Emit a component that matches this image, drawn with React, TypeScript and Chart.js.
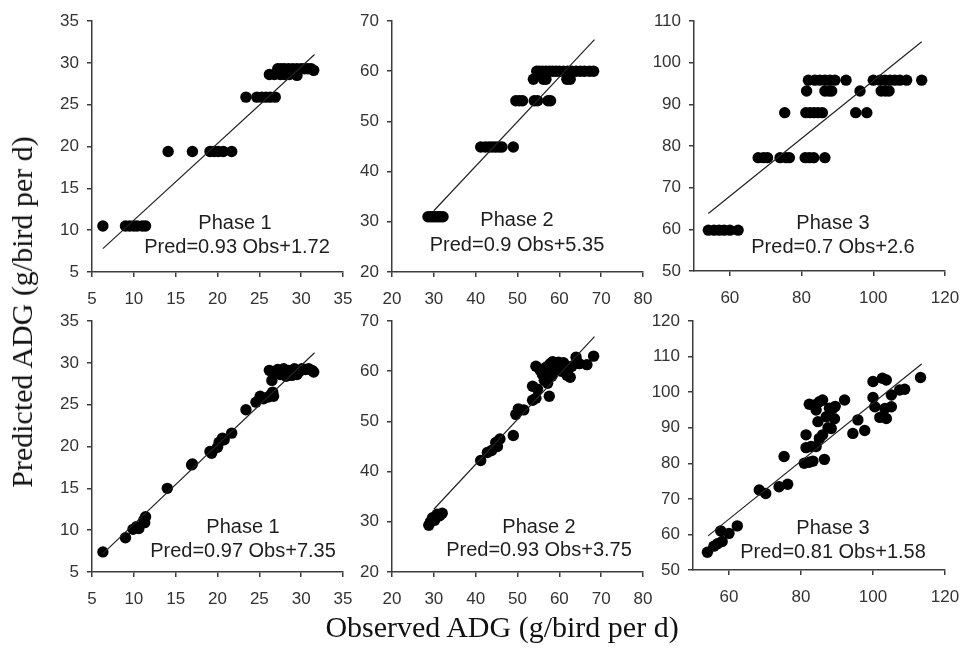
import React, { useEffect, useRef } from "react";
import { Chart, registerables } from "chart.js";

Chart.register(...registerables);

// ---------- DATA ----------
// Row 1, Phase 1
const p1Obs = [6.3, 9.0, 9.5, 10.0, 10.4, 11.0, 11.4, 14.1, 17.0, 19.1, 19.6, 20.1, 20.7, 21.7, 23.4, 24.7, 25.3, 25.8, 26.3, 26.9, 26.2, 26.8, 27.5, 28.0, 28.6, 29.5, 27.2, 27.6, 28.0, 28.5, 29.0, 29.5, 30.0, 30.4, 30.8, 31.2, 31.5];
const p1Pred = [10.5, 10.5, 10.5, 10.5, 10.5, 10.5, 10.5, 19.4, 19.4, 19.4, 19.4, 19.4, 19.4, 19.4, 25.9, 25.9, 25.9, 25.9, 25.9, 25.9, 28.6, 28.6, 28.6, 28.6, 28.6, 28.5, 29.3, 29.3, 29.3, 29.3, 29.3, 29.3, 29.3, 29.3, 29.3, 29.3, 29.1];
const p1FitObs = [6.3, 31.6];
const p1FitPred = [7.8, 31.0];

// Row 1, Phase 2
const p2Obs = [28.6, 29.2, 29.8, 30.4, 31.0, 31.6, 32.2, 41.2, 42.3, 43.2, 44.0, 44.8, 45.6, 46.3, 49.0, 49.6, 50.4, 51.2, 54.0, 54.8, 57.3, 57.9, 53.8, 56.2, 56.8, 61.8, 62.6, 54.6, 55.2, 56.0, 56.8, 57.6, 58.4, 59.2, 60.0, 61.0, 62.0, 63.0, 64.0, 65.0, 66.0, 67.2, 68.2];
const p2Pred = [31.0, 31.0, 31.0, 31.0, 31.0, 31.0, 31.0, 44.9, 44.9, 44.9, 44.9, 44.9, 44.9, 44.9, 44.9, 54.1, 54.1, 54.1, 54.1, 54.1, 54.1, 54.1, 58.4, 58.4, 58.4, 58.4, 58.4, 60.0, 60.0, 60.0, 60.0, 60.0, 60.0, 60.0, 60.0, 60.0, 60.0, 60.0, 60.0, 60.0, 60.0, 60.0, 60.0];
const p2FitObs = [30.0, 68.4];
const p2FitPred = [32.2, 66.3];

// Row 1, Phase 3
const p3Obs = [54.0, 55.6, 57.0, 58.4, 60.0, 62.3, 67.9, 69.4, 70.5, 74.0, 75.7, 76.6, 81.0, 82.2, 83.4, 86.5, 75.3, 81.2, 82.4, 83.5, 84.6, 85.8, 95.1, 98.2, 81.4, 86.5, 87.6, 88.4, 96.3, 102.2, 103.4, 104.4, 81.9, 83.7, 85.1, 86.5, 87.9, 89.3, 92.4, 100.0, 101.9, 103.3, 104.7, 106.0, 107.4, 109.3, 113.5];
const p3Pred = [59.8, 59.8, 59.8, 59.8, 59.8, 59.8, 77.2, 77.2, 77.2, 77.2, 77.2, 77.2, 77.2, 77.2, 77.2, 77.2, 88.0, 88.0, 88.0, 88.0, 88.0, 88.0, 88.0, 88.0, 93.2, 93.2, 93.2, 93.2, 93.2, 93.2, 93.2, 93.2, 95.8, 95.8, 95.8, 95.8, 95.8, 95.8, 95.8, 95.8, 95.8, 95.8, 95.8, 95.8, 95.8, 95.8, 95.8];
const p3FitObs = [54.0, 113.5];
const p3FitPred = [63.8, 105.0];

// Row 2, Phase 1
const p4Obs = [6.3, 9.0, 9.9, 10.3, 10.6, 11.2, 11.4, 11.3, 14.0, 16.9, 17.0, 19.1, 19.3, 20.0, 20.2, 20.6, 20.8, 21.7, 23.4, 24.6, 25.1, 25.5, 26.0, 26.4, 26.6, 26.7, 26.2, 26.5, 26.8, 27.2, 27.5, 27.9, 28.2, 28.5, 28.9, 29.2, 29.5, 29.8, 30.1, 30.5, 30.9, 31.3, 31.5];
const p4Pred = [7.4, 9.1, 10.1, 10.4, 10.2, 11.2, 11.6, 10.9, 15.0, 17.8, 17.9, 19.4, 19.2, 19.9, 20.5, 21.0, 20.8, 21.6, 24.4, 25.3, 26.0, 25.7, 25.9, 26.2, 26.5, 26.0, 29.1, 27.9, 28.9, 29.2, 28.6, 29.3, 28.4, 29.1, 28.5, 29.3, 28.6, 29.0, 29.3, 29.2, 29.3, 29.1, 28.9];
const p4FitObs = [6.3, 31.6];
const p4FitPred = [7.2, 31.2];

// Row 2, Phase 2
const p5Obs = [28.8, 29.2, 29.7, 30.2, 30.8, 31.4, 32.0, 41.2, 42.8, 43.8, 44.8, 45.2, 45.8, 49.0, 49.6, 50.2, 51.5, 53.6, 54.4, 53.6, 54.8, 54.4, 55.4, 56.0, 56.4, 56.8, 57.2, 57.6, 57.8, 58.4, 58.2, 59.0, 59.8, 60.5, 61.0, 61.8, 62.6, 62.2, 63.0, 64.0, 64.8, 66.6, 68.2];
const p5Pred = [29.3, 30.0, 30.8, 30.3, 31.5, 31.2, 31.7, 42.2, 43.8, 44.2, 45.8, 45.0, 46.5, 47.2, 51.4, 52.5, 52.3, 54.2, 54.6, 57.0, 56.4, 61.0, 60.2, 59.3, 58.2, 60.8, 57.6, 55.0, 61.5, 61.9, 59.0, 60.3, 61.8, 60.0, 61.7, 59.2, 58.8, 60.5, 61.0, 62.8, 61.5, 61.3, 63.0];
const p5FitObs = [30.0, 68.4];
const p5FitPred = [32.5, 66.9];

// Row 2, Phase 3
const p6Obs = [54.0, 55.8, 56.8, 58.1, 57.7, 60.0, 62.3, 68.4, 70.2, 73.9, 76.3, 75.3, 81.4, 81.4, 80.9, 82.3, 83.3, 82.3, 83.7, 85.1, 86.0, 84.2, 84.7, 82.8, 84.2, 85.1, 86.0, 86.5, 87.0, 87.9, 88.4, 87.5, 88.8, 89.3, 89.5, 92.1, 94.4, 95.8, 97.7, 100.0, 100.0, 100.5, 102.6, 103.7, 101.9, 103.7, 103.3, 105.1, 105.1, 107.4, 108.8, 113.2];
const p6Pred = [55.0, 56.7, 57.4, 58.0, 61.0, 60.3, 62.4, 72.5, 71.5, 73.4, 74.1, 81.9, 88.0, 84.4, 80.0, 80.3, 80.6, 96.6, 96.4, 97.3, 97.8, 95.0, 91.7, 84.7, 84.7, 87.0, 88.0, 81.1, 93.1, 95.5, 89.8, 90.0, 95.4, 92.5, 96.0, 97.8, 88.4, 92.2, 89.2, 98.5, 103.0, 95.9, 103.9, 103.4, 92.9, 92.6, 95.4, 95.9, 99.2, 100.6, 100.8, 104.1];
const p6FitObs = [54.2, 113.5];
const p6FitPred = [59.6, 107.9];

// Axis ranges and ticks
const ticksPhase1 = [5, 10, 15, 20, 25, 30, 35];
const ticksPhase2 = [20, 30, 40, 50, 60, 70, 80];
const ticksPhase2Y = [20, 30, 40, 50, 60, 70];
const ticksPhase3X = [60, 80, 100, 120];
const ticksPhase3YTop = [50, 60, 70, 80, 90, 100, 110];
const ticksPhase3YBottom = [50, 60, 70, 80, 90, 100, 110, 120];

const phaseLabels = ["Phase 1", "Phase 2", "Phase 3", "Phase 1", "Phase 2", "Phase 3"];
const equationLabels = [
  "Pred=0.93 Obs+1.72",
  "Pred=0.9 Obs+5.35",
  "Pred=0.7 Obs+2.6",
  "Pred=0.97 Obs+7.35",
  "Pred=0.93 Obs+3.75",
  "Pred=0.81 Obs+1.58",
];

const yTitle = "Predicted ADG (g/bird per d)";
const xTitle = "Observed ADG (g/bird per d)";

// ---------- LAYOUT ----------
type Area = { l: number; t: number; r: number; b: number };
type PanelDef = {
  obs: number[];
  pred: number[];
  fitObs: number[];
  fitPred: number[];
  xMin: number;
  xMax: number;
  xTicks: number[];
  yMin: number;
  yMax: number;
  yTicks: number[];
  area: Area;
  phase: string;
  eq: string;
  phasePos: [number, number];
  eqPos: [number, number];
};

const panels: PanelDef[] = [
  { obs: p1Obs, pred: p1Pred, fitObs: p1FitObs, fitPred: p1FitPred, xMin: 5, xMax: 35, xTicks: ticksPhase1, yMin: 5, yMax: 35, yTicks: ticksPhase1,
    area: { l: 92, t: 21, r: 343, b: 272 }, phase: phaseLabels[0], eq: equationLabels[0], phasePos: [143, 202], eqPos: [145, 226] },
  { obs: p2Obs, pred: p2Pred, fitObs: p2FitObs, fitPred: p2FitPred, xMin: 20, xMax: 80, xTicks: ticksPhase2, yMin: 20, yMax: 70, yTicks: ticksPhase2Y,
    area: { l: 392, t: 21, r: 643, b: 272 }, phase: phaseLabels[1], eq: equationLabels[1], phasePos: [125, 199], eqPos: [125, 224] },
  { obs: p3Obs, pred: p3Pred, fitObs: p3FitObs, fitPred: p3FitPred, xMin: 50, xMax: 120, xTicks: ticksPhase3X, yMin: 50, yMax: 110, yTicks: ticksPhase3YTop,
    area: { l: 694, t: 21, r: 945, b: 271 }, phase: phaseLabels[2], eq: equationLabels[2], phasePos: [139, 202], eqPos: [139, 226] },
  { obs: p4Obs, pred: p4Pred, fitObs: p4FitObs, fitPred: p4FitPred, xMin: 5, xMax: 35, xTicks: ticksPhase1, yMin: 5, yMax: 35, yTicks: ticksPhase1,
    area: { l: 92, t: 321, r: 343, b: 572 }, phase: phaseLabels[3], eq: equationLabels[3], phasePos: [151, 206], eqPos: [151, 230] },
  { obs: p5Obs, pred: p5Pred, fitObs: p5FitObs, fitPred: p5FitPred, xMin: 20, xMax: 80, xTicks: ticksPhase2, yMin: 20, yMax: 70, yTicks: ticksPhase2Y,
    area: { l: 392, t: 321, r: 643, b: 572 }, phase: phaseLabels[4], eq: equationLabels[4], phasePos: [147, 206], eqPos: [147, 229] },
  { obs: p6Obs, pred: p6Pred, fitObs: p6FitObs, fitPred: p6FitPred, xMin: 50, xMax: 120, xTicks: ticksPhase3X, yMin: 50, yMax: 120, yTicks: ticksPhase3YBottom,
    area: { l: 693, t: 321, r: 945, b: 570 }, phase: phaseLabels[5], eq: equationLabels[5], phasePos: [140, 207], eqPos: [140, 231] },
];

const PAD_L = 70;
const PAD_T = 20;
const PAD_R = 15;
const PAD_B = 45;
const AXIS_COLOR = "#3c3c3c";
const TICK_FONT = { family: "'Liberation Sans', Arial, sans-serif", size: 17 };

function Panel({ def }: { def: PanelDef }) {
  const ref = useRef<HTMLCanvasElement | null>(null);
  const width = def.area.r - def.area.l + PAD_L + PAD_R;
  const height = def.area.b - def.area.t + PAD_T + PAD_B;

  useEffect(() => {
    if (!ref.current) return;
    const points = def.obs.map((x, i) => ({ x, y: def.pred[i] }));
    const fit = def.fitObs.map((x, i) => ({ x, y: def.fitPred[i] }));

    const textPlugin = {
      id: "panelText",
      afterDatasetsDraw(chart: any) {
        const { ctx, chartArea } = chart;
        ctx.save();
        ctx.fillStyle = "#1e1e1e";
        ctx.font = "20px 'Liberation Sans', Arial, sans-serif";
        ctx.textAlign = "center";
        ctx.textBaseline = "middle";
        ctx.fillText(def.phase, chartArea.left + def.phasePos[0], chartArea.top + def.phasePos[1]);
        ctx.fillText(def.eq, chartArea.left + def.eqPos[0], chartArea.top + def.eqPos[1]);
        ctx.restore();
      },
    };

    const makeTicks = (vals: number[]) => (scale: any) => {
      scale.ticks = vals.map((v) => ({ value: v }));
    };

    const chart = new Chart(ref.current, {
      type: "scatter",
      data: {
        datasets: [
          {
            type: "line",
            data: fit,
            borderColor: "#222",
            borderWidth: 1.2,
            pointRadius: 0,
            showLine: true,
            fill: false,
          } as any,
          {
            data: points,
            backgroundColor: "#000",
            borderColor: "#000",
            pointRadius: 5.7,
            borderWidth: 0,
          },
        ],
      },
      options: {
        responsive: false,
        animation: false,
        devicePixelRatio: 1,
        layout: { padding: { left: 0, top: PAD_T, right: PAD_R, bottom: 0 } },
        plugins: { legend: { display: false }, tooltip: { enabled: false } },
        scales: {
          x: {
            type: "linear",
            min: def.xMin,
            max: def.xMax,
            afterBuildTicks: makeTicks(def.xTicks),
            afterFit: (s: any) => { s.height = PAD_B; s.paddingLeft = 0; s.paddingRight = 0; },
            border: { display: true, color: AXIS_COLOR, width: 1.5 },
            grid: { display: true, drawOnChartArea: false, drawTicks: true, tickLength: 5, color: AXIS_COLOR, lineWidth: 1.5 },
            ticks: { color: "#333", font: TICK_FONT, padding: 12, maxRotation: 0 },
          },
          y: {
            type: "linear",
            min: def.yMin,
            max: def.yMax,
            afterBuildTicks: makeTicks(def.yTicks),
            afterFit: (s: any) => { s.width = PAD_L; s.paddingTop = 0; s.paddingBottom = 0; },
            border: { display: true, color: AXIS_COLOR, width: 1.5 },
            grid: { display: true, drawOnChartArea: false, drawTicks: true, tickLength: 5, color: AXIS_COLOR, lineWidth: 1.5 },
            ticks: { color: "#333", font: TICK_FONT, padding: 8 },
          },
        },
      },
      plugins: [textPlugin],
    } as any);
    return () => chart.destroy();
  }, [def]);

  return (
    <canvas
      ref={ref}
      width={width}
      height={height}
      style={{
        position: "absolute",
        left: def.area.l - PAD_L,
        top: def.area.t - PAD_T,
        width,
        height,
      }}
    />
  );
}

export default function App() {
  return (
    <div style={{ position: "absolute", left: 0, top: 0, width: 961, height: 649, background: "#fff", overflow: "hidden" }}>
      {panels.map((p, i) => (
        <Panel key={i} def={p} />
      ))}
      <div
        style={{
          position: "absolute",
          left: 22,
          top: 312,
          transform: "translate(-50%, -50%) rotate(-90deg)",
          whiteSpace: "nowrap",
          fontFamily: "'Liberation Serif', 'Times New Roman', serif",
          fontSize: 30,
          color: "#111",
          lineHeight: 1,
        }}
      >
        {yTitle}
      </div>
      <div
        style={{
          position: "absolute",
          left: 502,
          top: 627,
          transform: "translate(-50%, -50%)",
          whiteSpace: "nowrap",
          fontFamily: "'Liberation Serif', 'Times New Roman', serif",
          fontSize: 30,
          color: "#111",
          lineHeight: 1,
        }}
      >
        {xTitle}
      </div>
    </div>
  );
}
